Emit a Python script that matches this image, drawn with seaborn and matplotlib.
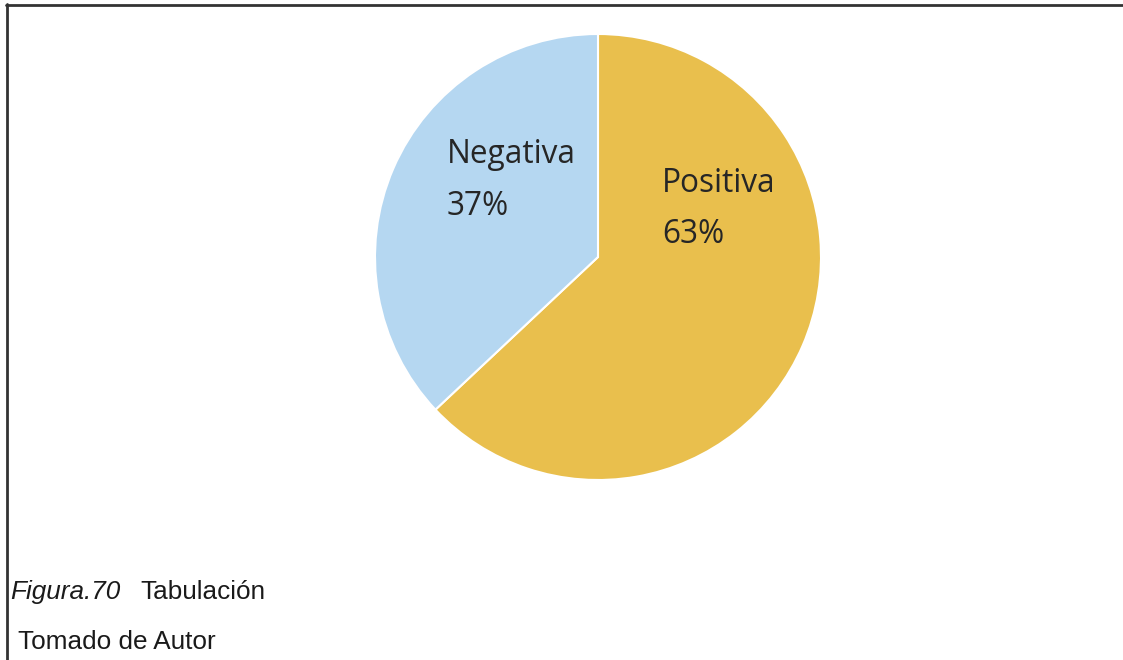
import matplotlib
matplotlib.use("Agg")
import matplotlib.pyplot as plt
import seaborn as sns
from matplotlib.lines import Line2D

categories = ["Positiva", "Negativa"]
values = [63, 37]
pct_labels = ["63%", "37%"]
colors = ["#E9BF4D", "#B5D7F1"]

sns.set_theme(style="white")
plt.rcParams['font.family'] = ['Open Sans', 'DejaVu Sans']

W, H = 1123, 660
fig = plt.figure(figsize=(W / 100, H / 100), dpi=100)
fig.patch.set_facecolor("white")

def fx(px):
    return px / W

def fy(py):
    return 1 - py / H

# pie axes: center (598,257), radius 223 px
cx, cy, r = 598, 257, 223
ax = fig.add_axes([fx(cx - r), fy(cy + r), 2 * r / W, 2 * r / H])
ax.pie(values, colors=colors, startangle=90, counterclock=False, radius=1,
       wedgeprops=dict(edgecolor="white", linewidth=1.5))
ax.set_xlim(-1, 1)
ax.set_ylim(-1, 1)
ax.set_aspect("equal")
ax.axis("off")

txt_color = "#262626"
lab_pos = {"Positiva": (662, 192, 243), "Negativa": (447, 163, 215)}
for cat, pct in zip(categories, pct_labels):
    x, y1, y2 = lab_pos[cat]
    fig.text(fx(x), fy(y1), cat, fontsize=22.8, color=txt_color, va="baseline", ha="left")
    fig.text(fx(x), fy(y2), pct, fontsize=22.8, color=txt_color, va="baseline", ha="left")

# border lines (top and left)
fig.add_artist(Line2D([fx(6), fx(1123)], [fy(4.5), fy(4.5)], color="#333333", lw=2, transform=fig.transFigure))
fig.add_artist(Line2D([fx(6.5), fx(6.5)], [fy(4), fy(660)], color="#333333", lw=2, transform=fig.transFigure))

cap_font = ['Liberation Sans', 'DejaVu Sans']
fig.text(fx(10), fy(599), "Figura.70", fontsize=18.8, style="italic", family=cap_font,
         color="#1a1a1a", va="baseline", ha="left")
fig.text(fx(140), fy(599), "Tabulación", fontsize=18.8, family=cap_font,
         color="#1a1a1a", va="baseline", ha="left")
fig.text(fx(18), fy(649), "Tomado de Autor", fontsize=18.8, family=cap_font,
         color="#1a1a1a", va="baseline", ha="left")

fig.savefig("out.png", dpi=100, facecolor="white")
